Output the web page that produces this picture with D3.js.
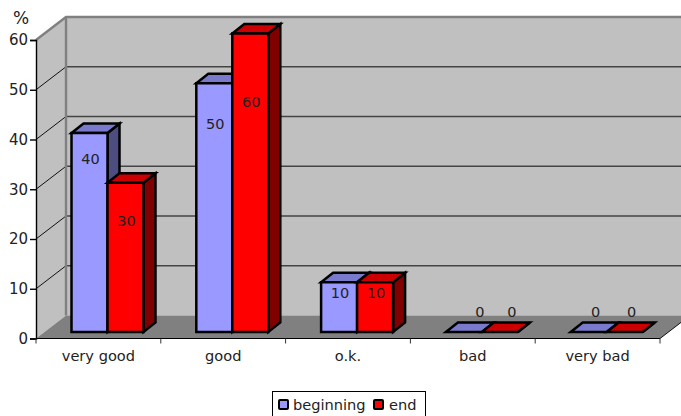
<!DOCTYPE html>
<html><head><meta charset="utf-8">
<script src="https://cdn.jsdelivr.net/npm/d3@7/dist/d3.min.js"></script>
<style>html,body{margin:0;padding:0;background:#fff;overflow:hidden}svg{display:block}text{font-family:"DejaVu Sans",Verdana,sans-serif;fill:#222}</style>
</head><body><svg id="c" width="681" height="416"></svg>
<script>
const categories = ["very good","good","o.k.","bad","very bad"];
const seriesNames = ["beginning","end"];
const beginning = [40,50,10,0,0];
const end = [30,60,10,0,0];
const yTicks = [0,10,20,30,40,50,60];

const svg = d3.select("#c");
const x = d3.scaleBand().domain(categories).range([36,660]);
const y = d3.scaleLinear().domain([0,60]).range([338.5,40]);
const wall = {dx:30, dy:-23};
const barFront = {dx:0, dy:-6.5};
const barDepth = {dx:12, dy:-9.5};
const barW = 36, barStart = 35.5;
const fill = {beginning:{f:"#9999ff",t:"#7a7acc",s:"#4d4d80"}, end:{f:"#ff0000",t:"#cc0000",s:"#800000"}};
const poly = pts => pts.map(p=>p.join(",")).join(" ");
const y0 = y(0), yTop = y(60);
const FONT = '"DejaVu Sans",Verdana,sans-serif';

// walls and floor
svg.append("rect").attr("x",36+wall.dx).attr("y",yTop+wall.dy).attr("width",660).attr("height",y0-yTop).attr("fill","#c0c0c0");
svg.append("polygon").attr("points",poly([[36,y0],[36,yTop],[36+wall.dx,yTop+wall.dy],[36+wall.dx,y0+wall.dy]])).attr("fill","#c0c0c0");
svg.append("polygon").attr("points",poly([[36,y0],[660,y0],[660+wall.dx,y0+wall.dy],[36+wall.dx,y0+wall.dy]])).attr("fill","#808080");

// gridlines
yTicks.filter(t=>t>0&&t<60).forEach(t=>{
  svg.append("line").attr("x1",36).attr("y1",y(t)).attr("x2",36+wall.dx).attr("y2",y(t)+wall.dy).attr("stroke","#111").attr("stroke-width",1);
  svg.append("line").attr("x1",36+wall.dx).attr("y1",y(t)+wall.dy).attr("x2",681).attr("y2",y(t)+wall.dy).attr("stroke","#444").attr("stroke-width",1.3);
});
svg.append("path").attr("d",`M36,${yTop}L${36+wall.dx},${yTop+wall.dy}H681M${36+wall.dx},${yTop+wall.dy}V${y0+wall.dy}`).attr("fill","none").attr("stroke","#808080").attr("stroke-width",2.4);
svg.append("line").attr("x1",660).attr("y1",y0).attr("x2",660+wall.dx).attr("y2",y0+wall.dy).attr("stroke","#111").attr("stroke-width",1);

// bars
const labelDrop = new Map([[60,69],[50,41],[40,26],[30,39],[10,11],[0,-20]]);
const zeroShift = {"bad":[16,12],"very bad":[7,7]};
categories.forEach((c,i)=>{
  [beginning,end].forEach((vals,j)=>{
    const v = vals[i], col = fill[seriesNames[j]];
    const l = x(c)+barStart+j*barW, r = l+barW;
    const b = y(0)+barFront.dy, t = y(v)+barFront.dy;
    const d = barDepth;
    const g = svg.append("g").attr("stroke","#000").attr("stroke-width",2.5).attr("stroke-linejoin","miter");
    g.append("polygon").attr("points",poly([[r,b],[r,t],[r+d.dx,t+d.dy],[r+d.dx,b+d.dy]])).attr("fill",col.s);
    g.append("polygon").attr("points",poly([[l,t],[r,t],[r+d.dx,t+d.dy],[l+d.dx,t+d.dy]])).attr("fill",col.t);
    if(v>0) g.append("rect").attr("x",l).attr("y",t).attr("width",barW).attr("height",b-t).attr("fill",col.f);
  });
});
categories.forEach((c,i)=>{
  [beginning,end].forEach((vals,j)=>{
    const v = vals[i];
    const l = x(c)+barStart+j*barW;
    const top = y(v)+barFront.dy;
    const shift = v===0 ? zeroShift[c][j] : 1;
    svg.append("text").attr("x",l+barW/2+shift).attr("y",top+labelDrop.get(v)+4.5)
      .attr("text-anchor","middle").attr("font-size",14.5).text(v);
  });
});

// axes
const axisY = d3.axisLeft(y).tickValues(yTicks).tickSize(6).tickPadding(2);
const gy = svg.append("g").attr("transform","translate(36,0)").call(axisY);
gy.selectAll("text").attr("font-size",15).style("font-family",FONT);
gy.selectAll(".domain,line").attr("stroke","#000").attr("stroke-width",1.4);
const axisX = d3.axisBottom(x).tickSize(5).tickPadding(7.5);
const gx = svg.append("g").attr("transform",`translate(0,${y0})`).call(axisX);
gx.select(".domain").attr("stroke","#000").attr("stroke-width",1.2).attr("d",`M36,0H660`);
gx.selectAll(".tick line").remove();
gx.selectAll("text").attr("font-size",14.6).style("font-family",FONT);
d3.range(0,categories.length+1).forEach(i=>{
  const tx = 36+i*x.bandwidth();
  svg.append("line").attr("x1",tx).attr("x2",tx).attr("y1",y0).attr("y2",y0+5).attr("stroke","#333");
});
svg.append("text").attr("x",13).attr("y",24).attr("font-size",17).text("%");

// legend
svg.append("rect").attr("x",272.5).attr("y",391.5).attr("width",153).attr("height",26).attr("fill","#fff").attr("stroke","#000");
const legX = [279,374], textX = [293,389];
seriesNames.forEach((n,i)=>{
  svg.append("rect").attr("x",legX[i]).attr("y",400).attr("width",9).attr("height",9).attr("rx",1).attr("fill",fill[n].f).attr("stroke","#000").attr("stroke-width",2);
  svg.append("text").attr("x",textX[i]).attr("y",410).attr("font-size",14.6).text(n);
});
</script></body></html>
